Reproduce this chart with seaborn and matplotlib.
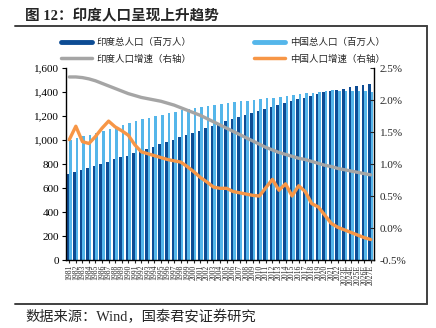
import numpy as np
import pandas as pd
import matplotlib
matplotlib.use("Agg")
import matplotlib.pyplot as plt
from matplotlib.lines import Line2D
from matplotlib.ticker import FuncFormatter, MultipleLocator
import seaborn as sns

# ---- data -------------------------------------------------------------
years = [str(y) for y in range(1981, 2023)] + [f"{y}E" for y in range(2023, 2028)]

india_pop = [715, 730, 748, 765, 783, 801, 820, 838, 857, 870,
             889, 908, 926, 945, 964, 983, 1002, 1021, 1040, 1060,
             1079, 1098, 1117, 1136, 1155, 1172, 1190, 1207, 1224, 1241,
             1258, 1275, 1291, 1307, 1323, 1339, 1354, 1369, 1383, 1396,
             1408, 1417, 1429, 1441, 1451, 1461, 1470]

china_pop = [1001, 1017, 1030, 1044, 1059, 1075, 1093, 1110, 1127, 1143,
             1158, 1172, 1185, 1199, 1211, 1224, 1236, 1248, 1258, 1267,
             1276, 1285, 1292, 1300, 1308, 1314, 1321, 1328, 1335, 1341,
             1347, 1354, 1361, 1368, 1375, 1383, 1390, 1395, 1400, 1412,
             1413, 1412, 1411, 1409, 1407, 1405, 1402]

india_growth = [2.36, 2.36, 2.35, 2.33, 2.30, 2.26, 2.22, 2.18, 2.14, 2.10,
                2.07, 2.04, 2.02, 2.00, 1.98, 1.95, 1.92, 1.88, 1.84, 1.80,
                1.76, 1.71, 1.66, 1.61, 1.56, 1.51, 1.46, 1.41, 1.36, 1.31,
                1.26, 1.22, 1.18, 1.15, 1.12, 1.09, 1.07, 1.04, 1.01, 0.98,
                0.96, 0.93, 0.91, 0.89, 0.87, 0.85, 0.83]

china_growth = [1.38, 1.59, 1.35, 1.32, 1.43, 1.56, 1.67, 1.58, 1.52, 1.45,
                1.30, 1.19, 1.16, 1.13, 1.10, 1.07, 1.05, 1.03, 0.96, 0.88,
                0.79, 0.72, 0.64, 0.62, 0.62, 0.57, 0.55, 0.53, 0.51, 0.50,
                0.63, 0.76, 0.59, 0.69, 0.50, 0.66, 0.57, 0.38, 0.33, 0.20,
                0.07, 0.01, -0.03, -0.07, -0.11, -0.15, -0.18]

lbl_india_pop = "印度总人口（百万人）"
lbl_china_pop = "中国总人口（百万人）"
lbl_india_gr = "印度人口增速（右轴）"
lbl_china_gr = "中国人口增速（右轴）"

# ---- styling ----------------------------------------------------------
sns.set_theme(style="white")
plt.rcParams["font.family"] = ["Liberation Serif", "Noto Sans CJK SC", "DejaVu Sans"]
cjk = ["Noto Sans CJK SC", "DejaVu Sans"]
mixed = ["Liberation Serif", "Noto Sans CJK SC"]

c_india = "#0d4c94"
c_china = "#55b6ea"
c_gray = "#a5a5a5"
c_orange = "#f79646"
frame = "#404040"

fig = plt.figure(figsize=(4.36, 3.28), dpi=100)
ax = fig.add_axes([66 / 436, 1 - 260 / 328, 308 / 436, 192 / 328])

df = pd.DataFrame({
    "year": years * 2,
    "pop": india_pop + china_pop,
    "country": [lbl_india_pop] * len(years) + [lbl_china_pop] * len(years),
})
sns.barplot(data=df, x="year", y="pop", hue="country", order=years,
            hue_order=[lbl_india_pop, lbl_china_pop],
            palette=[c_india, c_china], width=0.78, saturation=1,
            edgecolor="none", linewidth=0, legend=False, ax=ax)

ax.set_xlim(-0.5, len(years) - 0.5)
ax.set_ylim(0, 1600)
ax.yaxis.set_major_locator(MultipleLocator(200))
ax.yaxis.set_major_formatter(FuncFormatter(lambda v, _: f"{int(v):,}"))
ax.set_xlabel("")
ax.set_ylabel("")
ax.tick_params(axis="y", direction="out", length=3, width=0.8, labelsize=8,
               colors="black", pad=2, left=True)
ax.tick_params(axis="x", direction="out", length=2.5, width=0.8, labelsize=5.5,
               pad=1, bottom=True)
for t in ax.get_xticklabels():
    t.set_rotation(90)
for s in ["top", "right"]:
    ax.spines[s].set_visible(False)
for s in ["left", "bottom"]:
    ax.spines[s].set_color("black")
    ax.spines[s].set_linewidth(1.0)

# growth rates on the secondary axis
ax2 = ax.twinx()
xs = np.arange(len(years))
sns.lineplot(x=xs, y=india_growth, color=c_gray, lw=2.4, ax=ax2)
sns.lineplot(x=xs, y=china_growth, color=c_orange, lw=2.4, ax=ax2)
ax2.set_ylim(-0.5, 2.5)
ax2.yaxis.set_major_locator(MultipleLocator(0.5))
ax2.yaxis.set_major_formatter(FuncFormatter(lambda v, _: f"{v:.1f}%"))
ax2.tick_params(axis="y", direction="in", length=3, width=0.8, labelsize=8,
                pad=4, right=True)
for s in ["top", "left", "bottom"]:
    ax2.spines[s].set_visible(False)
ax2.spines["right"].set_color("black")
ax2.spines["right"].set_linewidth(1.0)
ax2.set_xlim(-0.5, len(years) - 0.5)

# legend
handles = [
    Line2D([], [], color=c_india, lw=3.5),
    Line2D([], [], color=c_gray, lw=2.5),
    Line2D([], [], color=c_china, lw=3.5),
    Line2D([], [], color=c_orange, lw=2.5),
]
labels = [lbl_india_pop, lbl_india_gr, lbl_china_pop, lbl_china_gr]
fig.legend(handles, labels, ncol=2, loc="upper left",
           bbox_to_anchor=(61 / 436, 1 - 38 / 328), frameon=False,
           prop={"family": cjk, "size": 6.8}, handlelength=3.3,
           handletextpad=0.5, columnspacing=6.6, labelspacing=0.75,
           borderaxespad=0, borderpad=0)

# title, frame lines and source
fig.text(25 / 436, 1 - 16 / 328, "图 12：印度人口呈现上升趋势", family=mixed,
         fontweight="bold", fontsize=10.5, va="center", ha="left")
fig.add_artist(Line2D([15 / 436, 427 / 436], [1 - 26 / 328, 1 - 26 / 328],
                      color=frame, lw=1.4, transform=fig.transFigure))
fig.add_artist(Line2D([427 / 436, 427 / 436], [1 - 26 / 328, 1 - 304 / 328],
                      color=frame, lw=1.4, transform=fig.transFigure))
fig.add_artist(Line2D([15 / 436, 427 / 436], [1 - 304 / 328, 1 - 304 / 328],
                      color=frame, lw=1.4, transform=fig.transFigure))
fig.text(25 / 436, 1 - 317 / 328, "数据来源：Wind，国泰君安证券研究", family=mixed,
         fontsize=10.3, va="center", ha="left")

fig.savefig("out.png", dpi=100, facecolor="white")
